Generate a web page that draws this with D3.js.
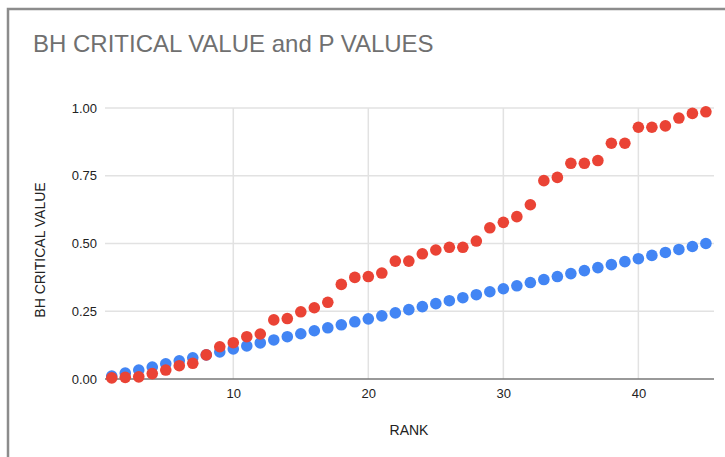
<!DOCTYPE html>
<html>
<head>
<meta charset="utf-8">
<script src="https://cdn.jsdelivr.net/npm/d3@7"></script>
<style>
body{margin:0;background:#fff;}
svg{display:block;font-family:"Liberation Sans",Arial,sans-serif;}
</style>
</head>
<body>
<svg width="725" height="457"></svg>
<script>
// rank 1..45
var ranks = [1,2,3,4,5,6,7,8,9,10,11,12,13,14,15,16,17,18,19,20,21,22,23,24,25,26,27,28,29,30,31,32,33,34,35,36,37,38,39,40,41,42,43,44,45];
// BH critical value (blue)
var bhValues = [0.011,0.022,0.033,0.044,0.056,0.067,0.078,0.089,0.100,0.111,0.122,0.133,0.144,0.156,0.167,0.178,0.189,0.200,0.211,0.222,0.233,0.244,0.256,0.267,0.278,0.289,0.300,0.311,0.322,0.333,0.344,0.356,0.367,0.378,0.389,0.400,0.411,0.422,0.433,0.444,0.456,0.467,0.478,0.489,0.500];
// P values (red)
var pValues = [0.004,0.006,0.008,0.020,0.033,0.049,0.058,0.089,0.119,0.134,0.156,0.166,0.218,0.223,0.248,0.263,0.283,0.349,0.375,0.378,0.391,0.435,0.435,0.462,0.476,0.486,0.486,0.509,0.558,0.578,0.599,0.643,0.732,0.744,0.796,0.796,0.806,0.870,0.870,0.929,0.929,0.934,0.963,0.980,0.986];
var xTicks = [10,20,30,40];
var yTicks = [0,0.25,0.5,0.75,1];

var svg = d3.select('svg');
var margin = {left:105,right:11,top:108,bottom:78};
var width = +svg.attr('width'), height = +svg.attr('height');
var innerwidth = width - margin.left - margin.right;
var innerheight = height - margin.top - margin.bottom;

// frame (runs off the right and bottom of the picture)
svg.append('rect').attr('x',8).attr('y',9).attr('width',760).attr('height',480)
	.attr('fill','none').attr('stroke','#8c8c8c').attr('stroke-width',2.5);

svg.append('text').attr('x',33).attr('y',52)
	.attr('font-size',24).attr('fill','#707070')
	.text('BH CRITICAL VALUE and P VALUES');

var xscale = d3.scaleLinear().domain([0.5,45.6]).range([0,innerwidth]);
var yscale = d3.scaleLinear().domain([0,1]).range([innerheight,0]);

var g = svg.append('g').attr('transform',`translate(${margin.left},${margin.top})`);

// grid
g.append('g').selectAll('line').data(yTicks.slice(1)).enter().append('line')
	.attr('x1',0).attr('x2',innerwidth)
	.attr('y1',d => yscale(d)).attr('y2',d => yscale(d))
	.attr('stroke','#e2e2e2').attr('stroke-width',1.5);
g.append('g').selectAll('line').data(xTicks).enter().append('line')
	.attr('x1',d => xscale(d)).attr('x2',d => xscale(d))
	.attr('y1',0).attr('y2',innerheight)
	.attr('stroke','#e2e2e2').attr('stroke-width',1.5);

// axes
var yaxis = g.append('g').call(d3.axisLeft(yscale).tickValues(yTicks).tickFormat(d3.format('.2f')).tickSize(0).tickPadding(8));
yaxis.select('.domain').remove();
yaxis.selectAll('text').attr('font-size',13).attr('fill','#222').attr('font-family','"Liberation Sans",Arial,sans-serif');

var xaxis = g.append('g').attr('transform',`translate(0,${innerheight})`)
	.call(d3.axisBottom(xscale).tickValues(xTicks).tickSize(0).tickPadding(10));
xaxis.select('.domain').remove();
xaxis.selectAll('text').attr('font-size',13).attr('fill','#222').attr('font-family','"Liberation Sans",Arial,sans-serif');

g.append('line').attr('x1',0).attr('x2',innerwidth).attr('y1',innerheight).attr('y2',innerheight)
	.attr('stroke','#777').attr('stroke-width',1.5);

// points
g.append('g').selectAll('circle').data(ranks).enter().append('circle')
	.attr('cx',d => xscale(d)).attr('cy',(d,i) => yscale(bhValues[i]))
	.attr('r',5.8).attr('fill','#4285f4');
g.append('g').selectAll('circle').data(ranks).enter().append('circle')
	.attr('cx',d => xscale(d)).attr('cy',(d,i) => yscale(pValues[i]))
	.attr('r',5.8).attr('fill','#ea4335');

// axis titles
svg.append('text').attr('x',409).attr('y',435).attr('text-anchor','middle')
	.attr('font-size',14).attr('fill','#222').text('RANK');
svg.append('text').attr('transform','translate(45,250) rotate(-90)').attr('text-anchor','middle')
	.attr('font-size',14).attr('fill','#222').text('BH CRITICAL VALUE');
</script>
</body>
</html>
